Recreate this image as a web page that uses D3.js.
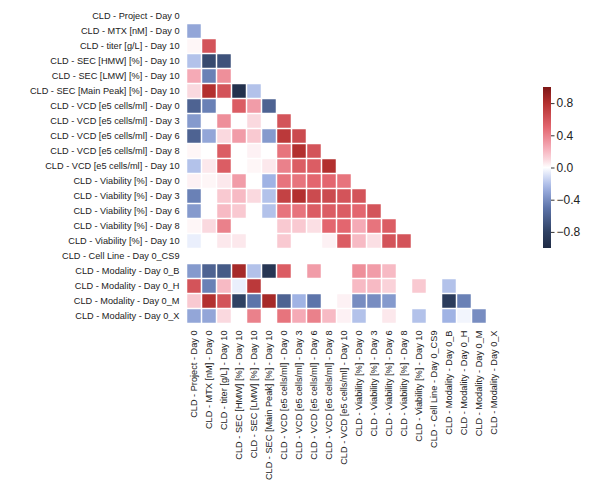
<!DOCTYPE html>
<html>
<head>
<meta charset="utf-8">
<script src="https://cdn.jsdelivr.net/npm/d3@7"></script>
<style>
  body { margin: 0; background: #fff; }
  text { font-family: "Liberation Sans", Arial, sans-serif; fill: #222; }
</style>
</head>
<body>
<svg id="chart"></svg>
<script>
// variable names (rows and columns share them)
const variables = [
  "CLD - Project - Day 0",
  "CLD - MTX [nM] - Day 0",
  "CLD - titer [g/L] - Day 10",
  "CLD - SEC [HMW] [%] - Day 10",
  "CLD - SEC [LMW] [%] - Day 10",
  "CLD - SEC [Main Peak] [%] - Day 10",
  "CLD - VCD [e5 cells/ml] - Day 0",
  "CLD - VCD [e5 cells/ml] - Day 3",
  "CLD - VCD [e5 cells/ml] - Day 6",
  "CLD - VCD [e5 cells/ml] - Day 8",
  "CLD - VCD [e5 cells/ml] - Day 10",
  "CLD - Viability [%] - Day 0",
  "CLD - Viability [%] - Day 3",
  "CLD - Viability [%] - Day 6",
  "CLD - Viability [%] - Day 8",
  "CLD - Viability [%] - Day 10",
  "CLD - Cell Line - Day 0_CS9",
  "CLD - Modality - Day 0_B",
  "CLD - Modality - Day 0_H",
  "CLD - Modality - Day 0_M",
  "CLD - Modality - Day 0_X"
];

// lower triangle of the correlation matrix, row i holds columns 0..i-1
// (Cell Line is constant, so its correlations are empty)
const N = null;
const corrRows = [
  [],
  [-0.3],
  [0.02, 0.6],
  [-0.2, -0.75, -0.7],
  [0.25, -0.45, 0.35, 0.0],
  [0.1, 0.8, 0.6, -0.95, -0.2],
  [-0.6, -0.45, 0.0, 0.55, 0.3, -0.6],
  [-0.35, 0.0, 0.35, 0.0, 0.1, 0.0, 0.6],
  [-0.6, -0.3, 0.1, 0.3, 0.15, -0.35, 0.75, 0.65],
  [0.02, 0.0, 0.55, 0.0, 0.03, 0.0, 0.45, 0.8, 0.6],
  [-0.2, 0.05, 0.55, 0.0, 0.02, 0.05, 0.4, 0.55, 0.55, 0.8],
  [0.03, 0.02, 0.05, 0.3, 0.0, -0.25, 0.45, 0.45, 0.5, 0.5, 0.45],
  [-0.45, 0.0, 0.15, 0.2, 0.1, -0.2, 0.7, 0.8, 0.65, 0.65, 0.6, 0.6],
  [-0.35, 0.0, 0.2, 0.15, 0.0, -0.2, 0.45, 0.45, 0.55, 0.55, 0.55, 0.5, 0.6],
  [0.02, 0.1, 0.4, 0.0, 0.0, 0.0, 0.15, 0.15, 0.08, 0.5, 0.5, 0.25, 0.45, 0.55],
  [-0.05, 0.0, 0.05, 0.05, 0.0, 0.0, 0.15, 0.0, 0.0, 0.03, 0.55, 0.2, 0.08, 0.6, 0.6],
  [N, N, N, N, N, N, N, N, N, N, N, N, N, N, N, N],
  [-0.35, -0.6, -0.65, 0.85, -0.2, -0.9, 0.55, 0.0, 0.3, 0.0, 0.0, 0.35, 0.3, 0.2, 0.0, 0.0, N],
  [0.6, -0.45, 0.2, -0.05, 0.75, 0.0, 0.0, 0.0, 0.0, 0.0, 0.0, 0.2, 0.2, 0.12, 0.0, 0.15, N, -0.2],
  [0.15, 0.8, 0.6, -0.8, -0.5, 0.85, -0.6, -0.25, -0.5, 0.0, 0.03, -0.4, -0.4, -0.35, 0.0, 0.0, N, -0.85, -0.45],
  [-0.3, -0.3, 0.1, 0.0, 0.4, 0.0, 0.45, 0.25, 0.4, 0.2, 0.03, -0.2, 0.0, 0.05, 0.0, -0.2, N, -0.25, -0.03, -0.4]
];

const colorbarTicks = [-0.8, -0.4, 0.0, 0.4, 0.8];

const width = 594, height = 489;

const svg = d3.select('#chart')
    .attr('width', width)
    .attr('height', height);

// flatten into cells
const cells = [];
corrRows.forEach((row, i) => {
  row.forEach((v, j) => {
    if (v !== null) cells.push({ row: variables[i], col: variables[j], value: v });
  });
});

const xScale = d3.scaleBand().domain(variables).range([186.5, 501.5]);
const yScale = d3.scaleBand().domain(variables).range([8.5, 323.5]);

// diverging navy - white - red palette
const color = d3.scaleLinear()
    .domain([-1, -0.8, -0.5, -0.25, -0.05, 0, 0.05, 0.25, 0.5, 0.8, 1])
    .range(['#1f2b45', '#2f4163', '#5d74aa', '#a0b3e4', '#eaeffc', '#ffffff',
            '#fce8ec', '#f5aab6', '#e3666f', '#b3302f', '#7d1716'])
    .clamp(true);

const gap = 0.75;
svg.append('g')
  .selectAll('rect')
  .data(cells)
  .join('rect')
    .attr('x', d => xScale(d.col) + gap)
    .attr('y', d => yScale(d.row) + gap)
    .attr('width', xScale.bandwidth() - 2 * gap)
    .attr('height', yScale.bandwidth() - 2 * gap)
    .attr('fill', d => color(d.value));

// row labels
const yAxis = d3.axisLeft(yScale).tickSize(0).tickPadding(7);
svg.append('g')
    .attr('transform', `translate(${xScale.range()[0]},0)`)
    .call(yAxis)
    .call(g => g.select('.domain').remove())
    .call(g => g.selectAll('text')
        .style('font-family', '"Liberation Sans", Arial, sans-serif')
        .style('font-size', '9.2px')
        .attr('fill', '#222'));

// column labels, rotated
const xAxis = d3.axisBottom(xScale).tickSize(0).tickPadding(7);
svg.append('g')
    .attr('transform', `translate(0,${yScale.range()[1]})`)
    .call(xAxis)
    .call(g => g.select('.domain').remove())
    .call(g => g.selectAll('text')
        .style('font-family', '"Liberation Sans", Arial, sans-serif')
        .style('font-size', '9.2px')
        .attr('fill', '#222')
        .attr('text-anchor', 'end')
        .attr('transform', 'rotate(-90)')
        .attr('x', -7)
        .attr('y', 0)
        .attr('dy', '0.35em'));

// colorbar
const cbX = 543, cbW = 8;
const cbScale = d3.scaleLinear().domain([-1, 1]).range([248, 87]);

const defs = svg.append('defs');
const grad = defs.append('linearGradient')
    .attr('id', 'cbgrad')
    .attr('x1', 0).attr('y1', 1).attr('x2', 0).attr('y2', 0);
d3.range(0, 1.0001, 0.05).forEach(t => {
  grad.append('stop')
      .attr('offset', t)
      .attr('stop-color', color(-1 + 2 * t));
});

svg.append('rect')
    .attr('x', cbX)
    .attr('y', cbScale(1))
    .attr('width', cbW)
    .attr('height', cbScale(-1) - cbScale(1))
    .attr('fill', 'url(#cbgrad)');

const cbAxis = d3.axisRight(cbScale)
    .tickValues(colorbarTicks)
    .tickSize(3.5)
    .tickPadding(2)
    .tickFormat(d => d3.format('.1f')(d).replace('-', '\u2212'));

svg.append('g')
    .attr('transform', `translate(${cbX + cbW},0)`)
    .call(cbAxis)
    .call(g => g.select('.domain').remove())
    .call(g => g.selectAll('line').attr('stroke', '#333'))
    .call(g => g.selectAll('text')
        .style('font-family', '"Liberation Sans", Arial, sans-serif')
        .style('font-size', '12px')
        .attr('fill', '#222'));
</script>
</body>
</html>
